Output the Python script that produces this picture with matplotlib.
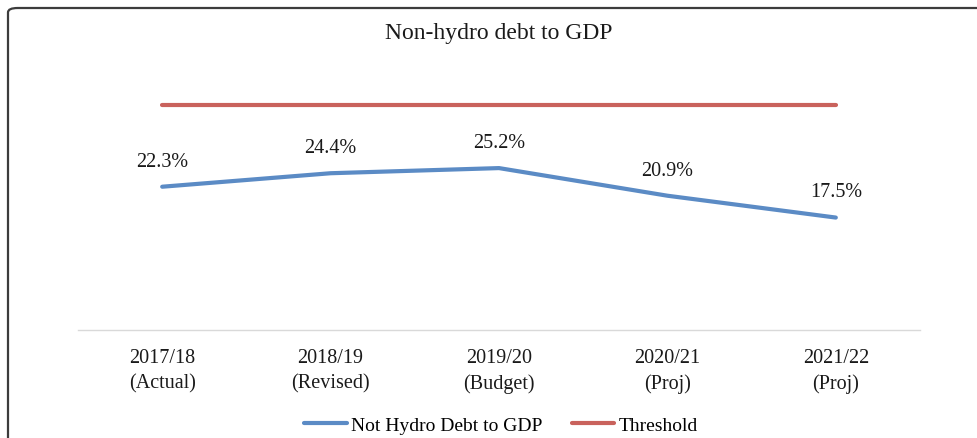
import matplotlib
matplotlib.use("Agg")
import matplotlib.pyplot as plt
from matplotlib.patches import FancyBboxPatch

plt.rcParams['font.family'] = ['Liberation Serif', 'DejaVu Serif']

# data
years = ["2017/18\n(Actual)", "2018/19\n(Revised)", "2019/20\n(Budget)", "2020/21\n(Proj)", "2021/22\n(Proj)"]
debt_to_gdp = [22.3, 24.4, 25.2, 20.9, 17.5]
threshold = [35, 35, 35, 35, 35]

blue = '#5b8bc5'
red = '#c9625c'

fig = plt.figure(figsize=(9.78, 4.39), dpi=100)
ax = fig.add_axes([78 / 978, 108 / 439, 842 / 978, 257 / 439])

x = list(range(len(years)))
ax.plot(x, debt_to_gdp, color=blue, lw=3, solid_capstyle='round', label='Not Hydro Debt to GDP')
ax.plot(x, threshold, color=red, lw=3, solid_capstyle='round', label='Threshold')

for xi, v in zip(x, debt_to_gdp):
    ax.annotate(f"{v:.1f}%", (xi, v), xytext=(0, 18.5), textcoords='offset points',
                ha='center', va='center', fontsize=14.5, color='#1a1a1a')

ax.set_xlim(-0.5, len(years) - 0.5)
ax.set_ylim(0, 40)
ax.set_xticks(x)
ax.set_xticklabels(years, fontsize=14.5, linespacing=1.4, color='#1a1a1a')
ax.tick_params(axis='x', length=0, pad=13)
ax.set_yticks([])
for s in ['top', 'right', 'left']:
    ax.spines[s].set_visible(False)
ax.spines['bottom'].set_color('#d9d9d9')
ax.spines['bottom'].set_linewidth(1)

fig.text(499 / 978, 1 - 34 / 439, "Non-hydro debt to GDP", ha='center', va='center',
         fontsize=17, color='#1a1a1a')

fig.legend(loc='center', bbox_to_anchor=(501 / 978, 1 - 426 / 439), ncol=2, frameon=False,
           fontsize=14, handlelength=2.2, handletextpad=0.2, columnspacing=1.5)

# rounded outer frame
frame = FancyBboxPatch((8 / 978, -0.2), 1.2, 1.2 - 9 / 439,
                       boxstyle="round,pad=0,rounding_size=0.01",
                       transform=fig.transFigure, fill=False, ec='#3c3c3c', lw=1.6,
                       clip_on=False)
fig.patches.append(frame)

fig.savefig("out.png", dpi=100)
